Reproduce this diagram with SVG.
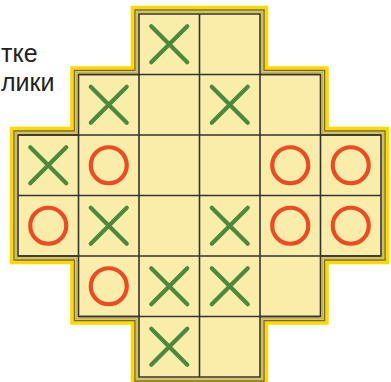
<svg xmlns="http://www.w3.org/2000/svg" width="391" height="382" viewBox="0 0 391 382">
<style>
.lbl{font-family:"Liberation Sans",Arial,sans-serif;font-size:25px;fill:#222}
.grid{stroke:#333;stroke-width:1.6;fill:none}
.x{stroke:#4a8a3a;stroke-width:4.2;stroke-linecap:round;fill:none}
.o{stroke:#ee4a24;stroke-width:4.2;fill:none}
</style>
<defs>
<g id="X"><path class="x" d="M-18,-18L18,18M18,-18L-18,18"/></g>
<g id="O"><circle class="o" r="18"/></g>
</defs>
<g id="labels">
<text class="lbl" x="1" y="62">тке</text>
<text class="lbl" x="1" y="91">лики</text>
</g>
<g id="board">
<path d="M133,8H266V68.5H326.5V129H387V262H326.5V322.5H266V383H133V322.5H72.5V262H12V129H72.5V68.5H133Z" fill="none" stroke="#ffd800" stroke-width="4.5"/>
<path d="M135,10H264V70.5H324.5V131H385V260H324.5V320.5H264V381H135V320.5H74.5V260H14V131H74.5V70.5H135Z" fill="#faedaa" stroke="#7a6c24" stroke-width="1.4"/>
<path d="M137,12H262V72.5H322.5V133H383V258H322.5V318.5H262V379H137V318.5H76.5V258H16V133H76.5V72.5H137Z" fill="none" stroke="#c9b24c" stroke-width="1.6"/>
<path class="grid" d="M139,14H260V74.5H320.5V135H381V256H320.5V316.5H260V377H139V316.5H78.5V256H18V135H78.5V74.5H139Z"/>
<path class="grid" d="M199.5,14V377M139,74.5V316.5M260,74.5V316.5M78.5,135V256M320.5,135V256M78.5,74.5H320.5M18,135H381M18,195.5H381M18,256H381M78.5,316.5H320.5"/>
</g>
<g id="marks">
<use href="#X" x="169.25" y="44.25"/>
<use href="#X" x="108.75" y="104.75"/>
<use href="#X" x="229.75" y="104.75"/>
<use href="#X" x="48.25" y="165.25"/>
<use href="#O" x="108.75" y="165.25"/>
<use href="#O" x="290.25" y="165.25"/>
<use href="#O" x="350.75" y="165.25"/>
<use href="#O" x="48.25" y="225.75"/>
<use href="#X" x="108.75" y="225.75"/>
<use href="#X" x="229.75" y="225.75"/>
<use href="#O" x="290.25" y="225.75"/>
<use href="#O" x="350.75" y="225.75"/>
<use href="#O" x="108.75" y="286.25"/>
<use href="#X" x="169.25" y="286.25"/>
<use href="#X" x="229.75" y="286.25"/>
<use href="#X" x="169.25" y="346.75"/>
</g>
</svg>
